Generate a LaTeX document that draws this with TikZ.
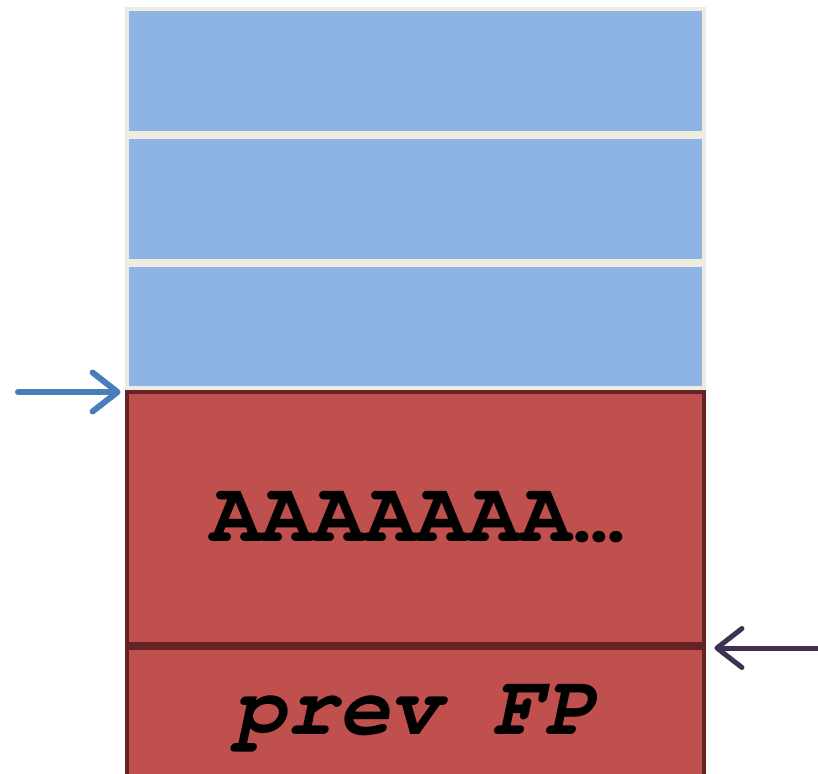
\documentclass[tikz,border=0pt]{standalone}
\usepackage[T1]{fontenc}
\usepackage{courier}
\usetikzlibrary{matrix,arrows.meta}
\definecolor{slotblue}{HTML}{8EB4E3}
\definecolor{slotedge}{HTML}{EEECE1}
\definecolor{bufred}{HTML}{C0504D}
\definecolor{bufedge}{HTML}{632423}
\definecolor{spblue}{HTML}{4A7EBB}
\definecolor{fpdark}{HTML}{403152}
\newcommand{\tightdots}{\kern-0.18em.\kern-0.4em.\kern-0.4em.\kern-0.25em}
\tikzset{
  slot/.style={fill=slotblue, draw=slotedge, line width=0.08cm, minimum height=2.473cm},
  buf/.style={fill=bufred, draw=bufedge, line width=0.08cm},
  ptr/.style={line width=0.12cm, line cap=round,
    -{Straight Barb[round, length=0.5cm, width=0.78cm]}}
}
\def\StackFrame{
    \matrix (stack) at (415.5,7)
    [matrix of nodes,
    nodes in empty cells,
    anchor=north,
    inner sep=0pt,
    row sep={0pt},
    nodes={outer sep=0pt, inner sep=0pt, minimum width=11.56cm, rectangle,
      font=\ttfamily\bfseries\fontsize{49}{49}\selectfont} ]
    {
     |[slot]| \\
     |[slot]| \\
     |[slot]| \\
     |[buf, minimum height=5.04cm]| AAAAAAA\tightdots \\
     |[buf, minimum height=2.72cm]| \itshape prev FP \\
    };
}

\begin{document}
\begin{tikzpicture}[x=0.02cm, y=-0.02cm]
    \useasboundingbox (0,0) rectangle (818,774);
    \clip (0,0) rectangle (818,774);
    \StackFrame
    \coordinate (sp) at (18,392);
    \coordinate (fp) at (818,648);
    \draw[ptr, spblue, shorten >=0.12cm] (sp) -- (sp -| stack-4-1.west);
    \draw[ptr, fpdark, line width=0.1cm, shorten >=0.2cm] (fp) -- (fp -| stack-4-1.east);
\end{tikzpicture}
\end{document}
